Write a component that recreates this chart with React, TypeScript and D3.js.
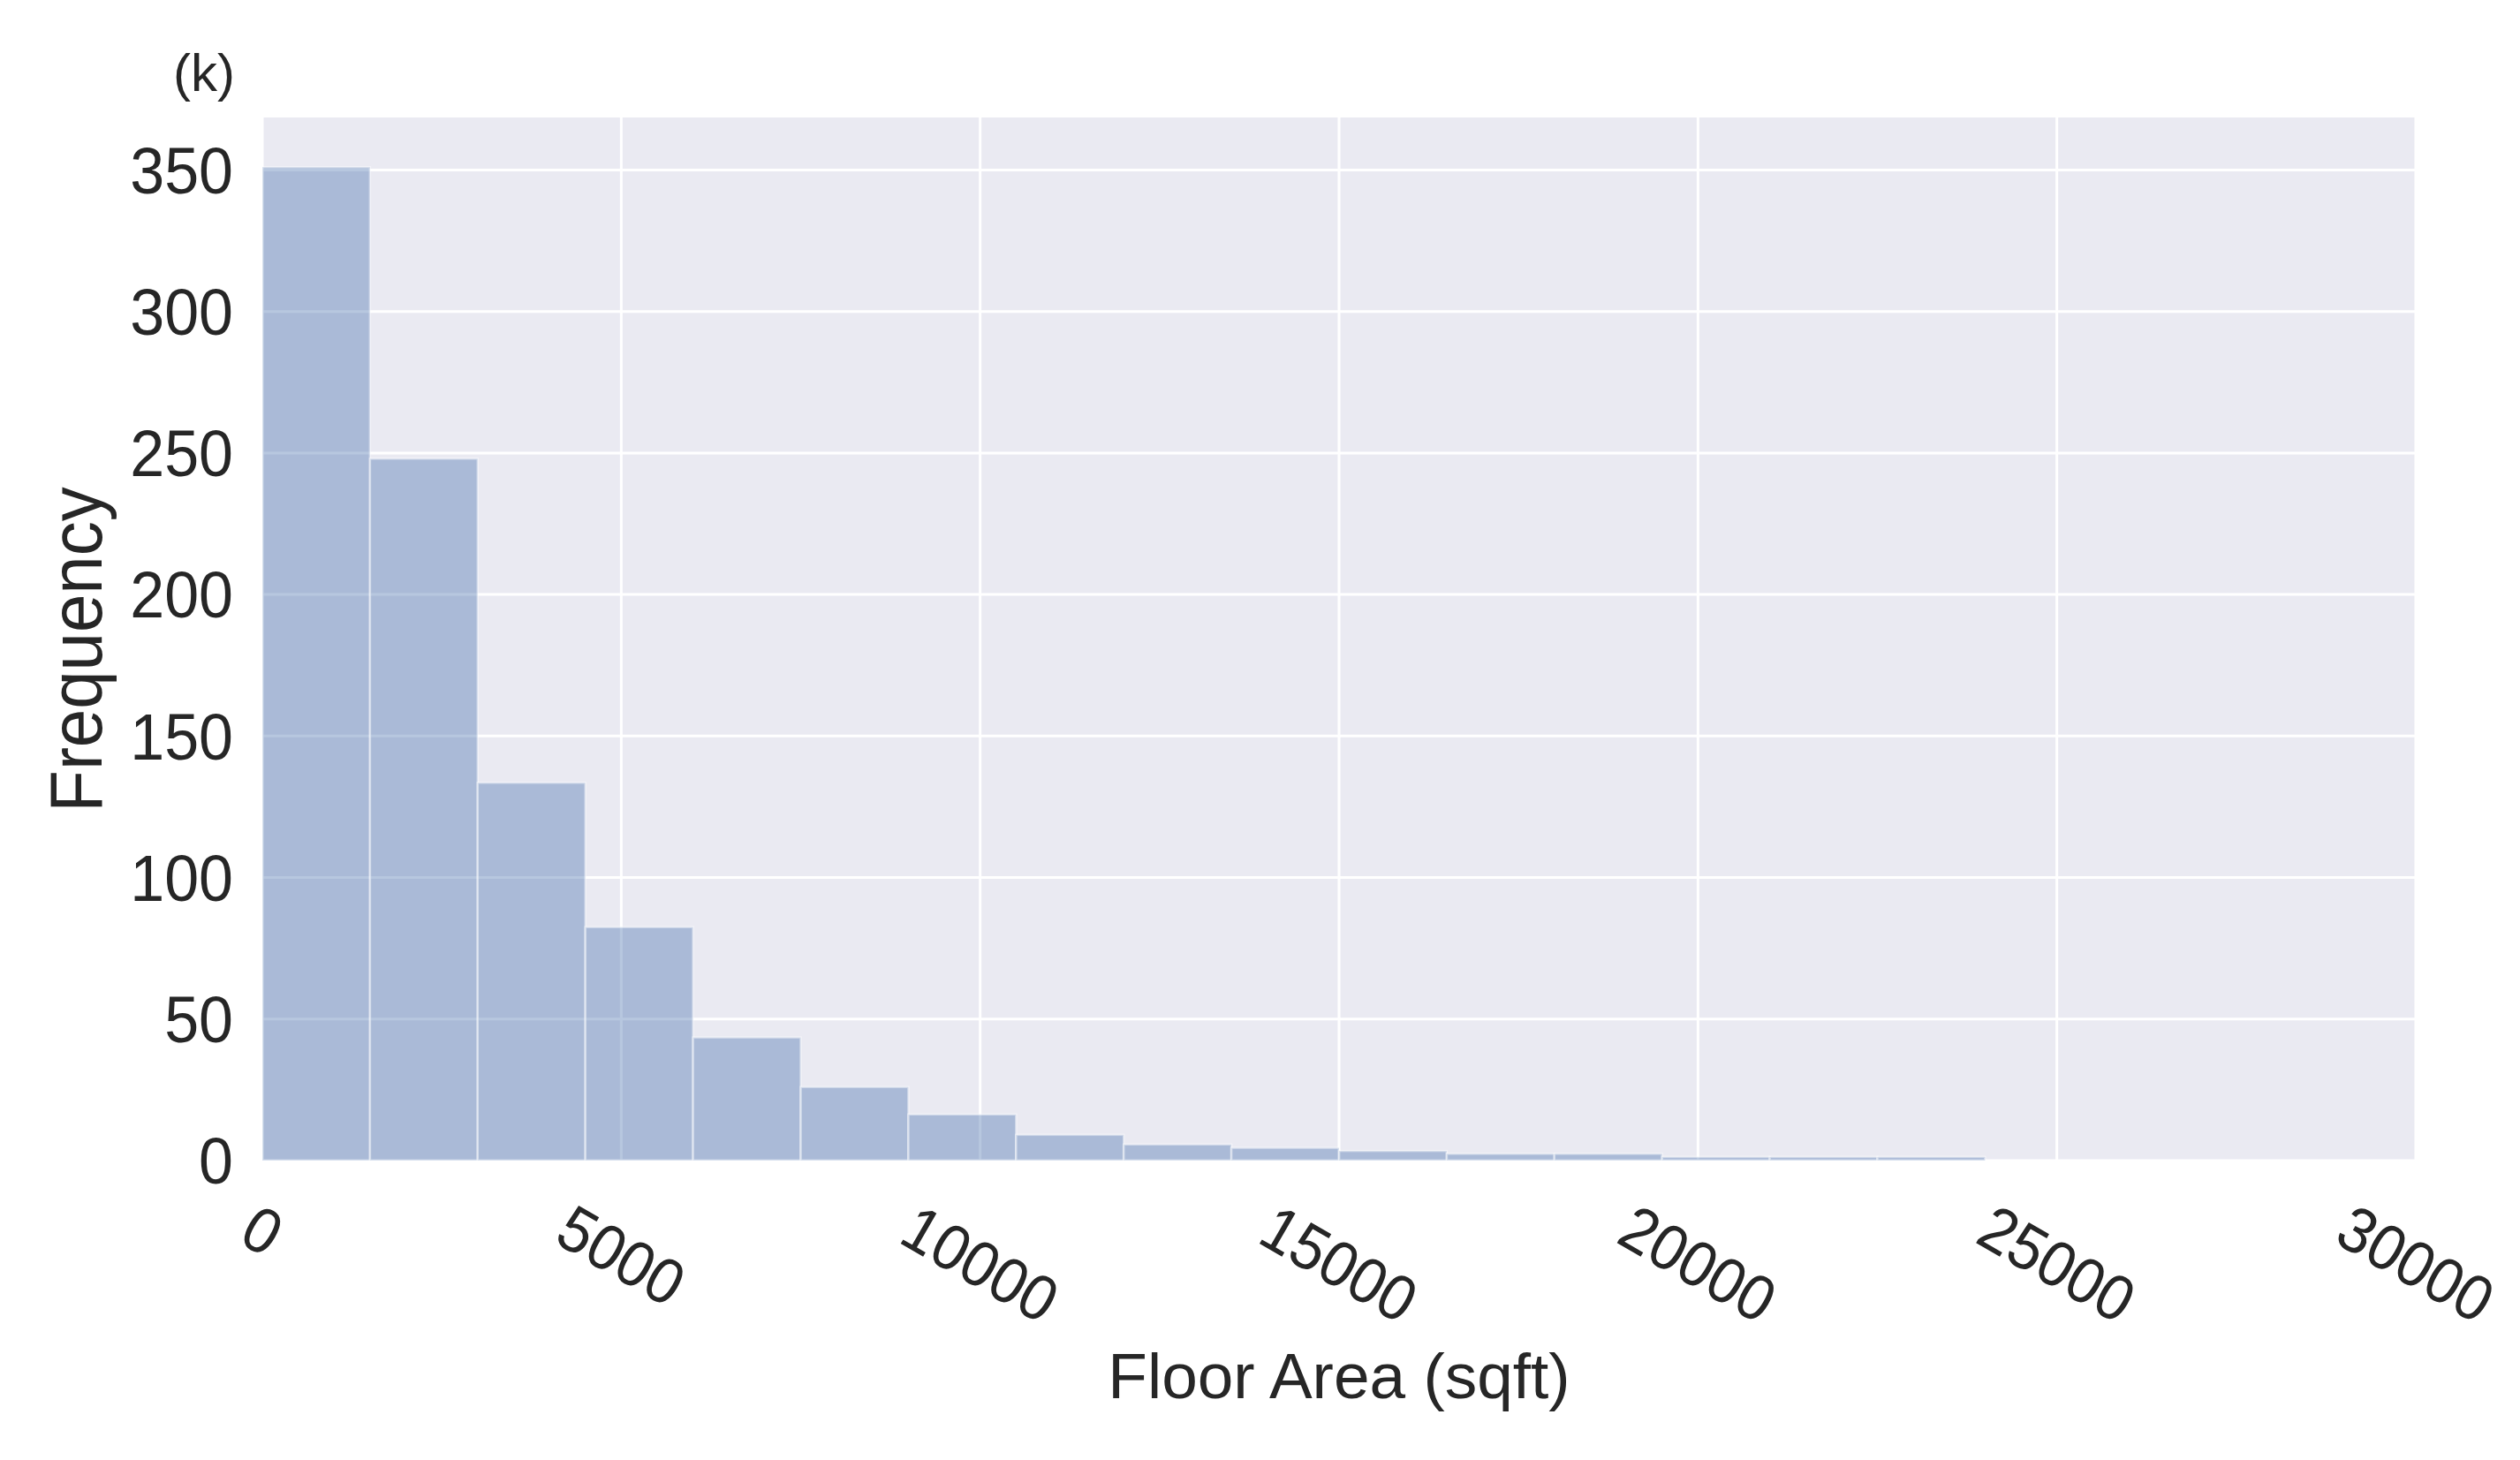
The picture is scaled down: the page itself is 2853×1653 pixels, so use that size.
import React from "react";
import * as d3 from "d3";

const binEdges: number[] = [0, 1500, 3000, 4500, 6000, 7500, 9000, 10500, 12000, 13500, 15000, 16500, 18000, 19500, 21000, 22500, 24000];
const frequencies: number[] = [351, 248, 133.5, 82.5, 43.5, 26, 16.3, 9.1, 5.7, 4.5, 3.4, 2.4, 2.4, 1.3, 1.3, 1.3];
const xTicks: number[] = [0, 5000, 10000, 15000, 20000, 25000, 30000];
const yTicks: number[] = [0, 50, 100, 150, 200, 250, 300, 350];
const xLabel = "Floor Area (sqft)";
const yLabel = "Frequency";
const unitLabel = "(k)";

const W = 2853;
const H = 1653;
const M = { left: 297, right: 2735, top: 133, bottom: 1314 };
const FONT = "'Liberation Sans', Arial, Helvetica, sans-serif";
const TEXT = "#262626";
const STRETCH = 1.07;

export default function App() {
  const x = d3.scaleLinear().domain([0, 30000]).range([M.left, M.right]);
  const yMax = d3.max(frequencies)! * 1.05;
  const y = d3.scaleLinear().domain([0, yMax]).range([M.bottom, M.top]);

  const bins = frequencies.map((f, i) => ({ x0: binEdges[i], x1: binEdges[i + 1], f }));
  const xLabelTop = 1361;
  const rot = 30;
  const xFont = 68;

  return (
    <svg width={W} height={H} style={{ position: "absolute", left: 0, top: 0, background: "#fff" }} fontFamily={FONT}>
      <rect x={M.left} y={M.top} width={M.right - M.left} height={M.bottom - M.top} fill="#EAEAF2" />
      {xTicks.map((t) => (
        <line key={"gx" + t} x1={x(t)} x2={x(t)} y1={M.top} y2={M.bottom} stroke="#fff" strokeWidth={3} />
      ))}
      {yTicks.map((t) => (
        <line key={"gy" + t} x1={M.left} x2={M.right} y1={y(t)} y2={y(t)} stroke="#fff" strokeWidth={3} />
      ))}
      {bins.map((b, i) => (
        <rect
          key={"b" + i}
          x={x(b.x0)}
          y={y(b.f)}
          width={x(b.x1) - x(b.x0)}
          height={y(0) - y(b.f)}
          fill="#4C72B0"
          fillOpacity={0.4}
          stroke="#fff"
          strokeOpacity={0.45}
          strokeWidth={2.5}
        />
      ))}
      {yTicks.map((t) => (
        <g key={"ty" + t} transform={`translate(264,${y(t)}) scale(1,${STRETCH})`}>
          <text x={0} y={0} textAnchor="end" dominantBaseline="central" fontSize={70} fill={TEXT}>
            {t}
          </text>
        </g>
      ))}
      {xTicks.map((t) => {
        const str = String(t);
        const w = str.length * 0.556 * xFont;
        const h = 0.716 * xFont * STRETCH;
        const rad = (rot * Math.PI) / 180;
        const bh = w * Math.sin(rad) + h * Math.cos(rad);
        const cx = x(t);
        const cy = xLabelTop + bh / 2;
        return (
          <g key={"tx" + t} transform={`translate(${cx},${cy}) rotate(${rot}) scale(1,${STRETCH})`}>
            <text x={0} y={0} textAnchor="middle" dominantBaseline="central" fontSize={xFont} fill={TEXT}>
              {str}
            </text>
          </g>
        );
      })}
      <text x={(M.left + M.right) / 2} y={1583} textAnchor="middle" fontSize={73} fill={TEXT}>
        {xLabel}
      </text>
      <g transform={`translate(86,${(M.top + M.bottom) / 2 + 12}) rotate(-90) scale(1,${STRETCH})`}>
        <text x={0} y={0} textAnchor="middle" dominantBaseline="central" fontSize={78} fill={TEXT}>
          {yLabel}
        </text>
      </g>
      <text x={266} y={103} textAnchor="end" fontSize={60} fill={TEXT}>
        {unitLabel}
      </text>
    </svg>
  );
}
